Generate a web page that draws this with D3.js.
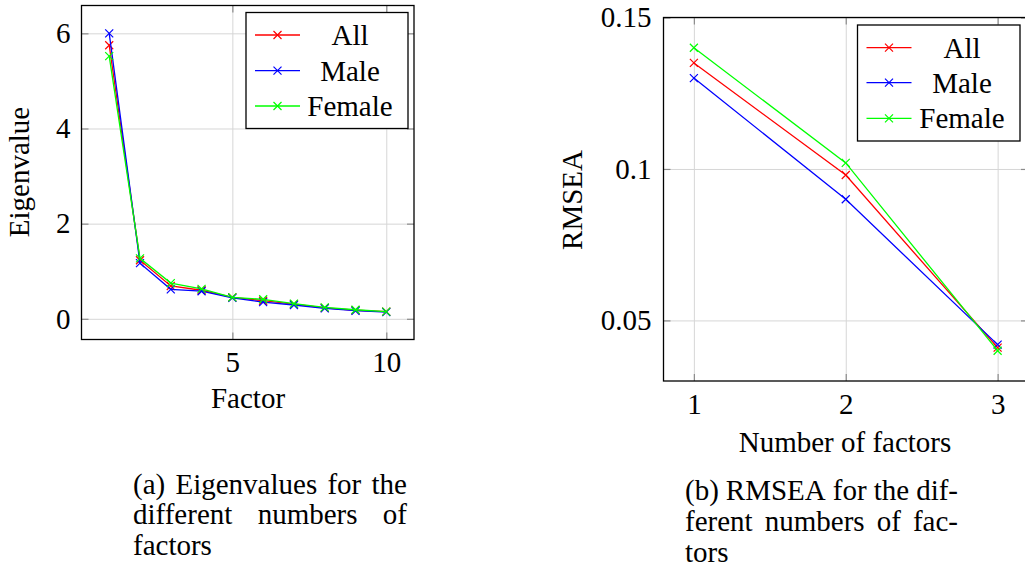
<!DOCTYPE html>
<html>
<head>
<meta charset="utf-8">
<script src="https://cdn.jsdelivr.net/npm/d3@7"></script>
<style>
  body { margin: 0; background: #fff; }
  svg { display: block; font-family: "Liberation Serif", "Times New Roman", serif; }
  .grid line { stroke: #d6d6d6; stroke-width: 1; }
  .ticks line { stroke: #8c8c8c; stroke-width: 1.2; }
  .grid .domain, .ticks .domain, .labels .domain { display: none; }
</style>
</head>
<body>
<svg id="fig" width="1025" height="568"></svg>
<script>
// (a) eigenvalues
const factorNums = [1, 2, 3, 4, 5, 6, 7, 8, 9, 10];
const eigAll = [5.75, 1.23, 0.69, 0.60, 0.45, 0.38, 0.31, 0.23, 0.18, 0.15];
const eigMale = [6.00, 1.17, 0.62, 0.58, 0.44, 0.35, 0.29, 0.22, 0.17, 0.14];
const eigFemale = [5.52, 1.27, 0.75, 0.63, 0.45, 0.41, 0.32, 0.24, 0.19, 0.15];
const eigXTicks = [5, 10];
const eigYTicks = [0, 2, 4, 6];

// (b) RMSEA
const rmseaNums = [1, 2, 3];
const rmseaAll = [0.135, 0.098, 0.041];
const rmseaMale = [0.130, 0.090, 0.042];
const rmseaFemale = [0.140, 0.102, 0.040];
const rmseaXTicks = [1, 2, 3];
const rmseaYTicks = [0.05, 0.1, 0.15];

const seriesNames = ["All", "Male", "Female"];
const seriesColors = ["#ff0000", "#0000ff", "#00ff00"];

const serif = '"Liberation Serif", "Times New Roman", serif';
const svg = d3.select("#fig");

function styleLabels(sel) {
    sel.attr("font-family", serif).attr("font-size", 29);
    sel.selectAll("text")
        .style("font-family", serif)
        .style("font-size", "29px")
        .attr("fill", "#000");
}

function drawPanel(opt) {
    let w = opt.x1 - opt.x0, h = opt.y1 - opt.y0;
    let x = d3.scaleLinear().domain(opt.xDomain).range([0, w]);
    let y = d3.scaleLinear().domain(opt.yDomain).range([h, 0]);

    let g = svg.append("g").attr("transform", "translate(" + opt.x0 + "," + opt.y0 + ")");

    // grid
    g.append("g").attr("class", "grid")
        .call(d3.axisLeft(y).tickValues(opt.yTicks).tickSize(-w).tickFormat(""));
    g.append("g").attr("class", "grid")
        .attr("transform", "translate(0," + h + ")")
        .call(d3.axisBottom(x).tickValues(opt.xTicks).tickSize(-h).tickFormat(""));

    // inner tick marks on all four sides
    let tk = 7;
    g.append("g").attr("class", "ticks").call(d3.axisLeft(y).tickValues(opt.yTicks).tickSize(-tk).tickFormat(""));
    g.append("g").attr("class", "ticks").attr("transform", "translate(" + w + ",0)")
        .call(d3.axisRight(y).tickValues(opt.yTicks).tickSize(-tk).tickFormat(""));
    g.append("g").attr("class", "ticks").attr("transform", "translate(0," + h + ")")
        .call(d3.axisBottom(x).tickValues(opt.xTicks).tickSize(-tk).tickFormat(""));
    g.append("g").attr("class", "ticks")
        .call(d3.axisTop(x).tickValues(opt.xTicks).tickSize(-tk).tickFormat(""));

    // tick labels
    g.append("g").attr("class", "labels")
        .call(d3.axisLeft(y).tickValues(opt.yTicks).tickSize(0).tickPadding(opt.yPad).tickFormat(d3.format("")))
        .call(styleLabels);
    g.append("g").attr("class", "labels")
        .attr("transform", "translate(0," + h + ")")
        .call(d3.axisBottom(x).tickValues(opt.xTicks).tickSize(0).tickPadding(12).tickFormat(d3.format("")))
        .call(styleLabels);

    // lines + cross markers
    let line = d3.line().x(d => x(d[0])).y(d => y(d[1]));
    opt.series.forEach(function (vals, i) {
        let pts = opt.xs.map((v, j) => [v, vals[j]]);
        g.append("path")
            .datum(pts)
            .attr("d", line)
            .attr("fill", "none")
            .attr("stroke", seriesColors[i])
            .attr("stroke-width", 1.3);
        g.selectAll(".mk" + i)
            .data(pts)
            .enter().append("path")
            .attr("class", "mk" + i)
            .attr("transform", d => "translate(" + x(d[0]) + "," + y(d[1]) + ")")
            .attr("d", "M-4,-4L4,4M-4,4L4,-4")
            .attr("stroke", seriesColors[i])
            .attr("stroke-width", 1.2);
    });

    // frame
    g.append("rect")
        .attr("width", w).attr("height", h)
        .attr("fill", "none").attr("stroke", "#000").attr("stroke-width", 1.3);

    // legend
    let lg = opt.legend;
    g.append("rect")
        .attr("x", lg.x0 - opt.x0).attr("y", lg.y0 - opt.y0)
        .attr("width", lg.x1 - lg.x0).attr("height", lg.y1 - lg.y0)
        .attr("fill", "#fff").attr("stroke", "#000").attr("stroke-width", 1.3);
    seriesNames.forEach(function (name, i) {
        let ry = lg.rows[i] - opt.y0;
        let sx0 = lg.x0 - opt.x0 + 9, sx1 = sx0 + 45;
        g.append("line").attr("x1", sx0).attr("x2", sx1).attr("y1", ry).attr("y2", ry)
            .attr("stroke", seriesColors[i]).attr("stroke-width", 1.3);
        g.append("path")
            .attr("transform", "translate(" + ((sx0 + sx1) / 2) + "," + ry + ")")
            .attr("d", "M-4,-4L4,4M-4,4L4,-4")
            .attr("stroke", seriesColors[i]).attr("stroke-width", 1.2);
        g.append("text")
            .attr("x", lg.textX - opt.x0).attr("y", ry + 10)
            .attr("text-anchor", "middle")
            .style("font-size", "29px")
            .text(name);
    });
}

drawPanel({
    x0: 81.5, x1: 414, y0: 5.5, y1: 339.5,
    xDomain: [0.1, 10.9], yDomain: [-0.435, 6.585],
    xTicks: eigXTicks, yTicks: eigYTicks, yPad: 11,
    xs: factorNums, series: [eigAll, eigMale, eigFemale],
    legend: {x0: 246, x1: 408, y0: 12.5, y1: 128.5, rows: [35, 70.7, 106], textX: 350}
});

drawPanel({
    x0: 663.5, x1: 1028, y0: 17.5, y1: 381,
    xDomain: [0.8, 3.2], yDomain: [0.03, 0.15],
    xTicks: rmseaXTicks, yTicks: rmseaYTicks, yPad: 12,
    xs: rmseaNums, series: [rmseaAll, rmseaMale, rmseaFemale],
    legend: {x0: 857.5, x1: 1020, y0: 25, y1: 141, rows: [47.7, 82.7, 118.3], textX: 962}
});

// axis titles
function addText(x, y, txt, rot) {
    return svg.append("text")
        .attr("transform", "translate(" + x + "," + y + ")" + (rot ? " rotate(-90)" : ""))
        .attr("text-anchor", "middle")
        .style("font-size", "29px")
        .text(txt);
}
addText(248, 408, "Factor");
addText(845, 451.5, "Number of factors");
addText(29, 172, "Eigenvalue", true);
addText(582, 200, "RMSEA", true);

// captions, justified word by word
function caption(x0, x1, baselines, lines) {
    lines.forEach(function (words, i) {
        let justify = i < lines.length - 1;
        let nodes = words.map(wd => svg.append("text")
            .attr("y", baselines[i])
            .style("font-size", "29px")
            .text(wd));
        let widths = nodes.map(n => n.node().getComputedTextLength());
        let total = d3.sum(widths);
        let gap = justify && words.length > 1 ? (x1 - x0 - total) / (words.length - 1) : 7.2;
        let cx = x0;
        nodes.forEach(function (n, j) {
            n.attr("x", cx);
            cx += widths[j] + gap;
        });
    });
}
caption(133, 407, [493.5, 524, 554.5], [
    ["(a)", "Eigenvalues", "for", "the"],
    ["different", "numbers", "of"],
    ["factors"]
]);
caption(685, 958, [500, 531, 562], [
    ["(b)", "RMSEA", "for", "the", "dif-"],
    ["ferent", "numbers", "of", "fac-"],
    ["tors"]
]);
</script>
</body>
</html>
